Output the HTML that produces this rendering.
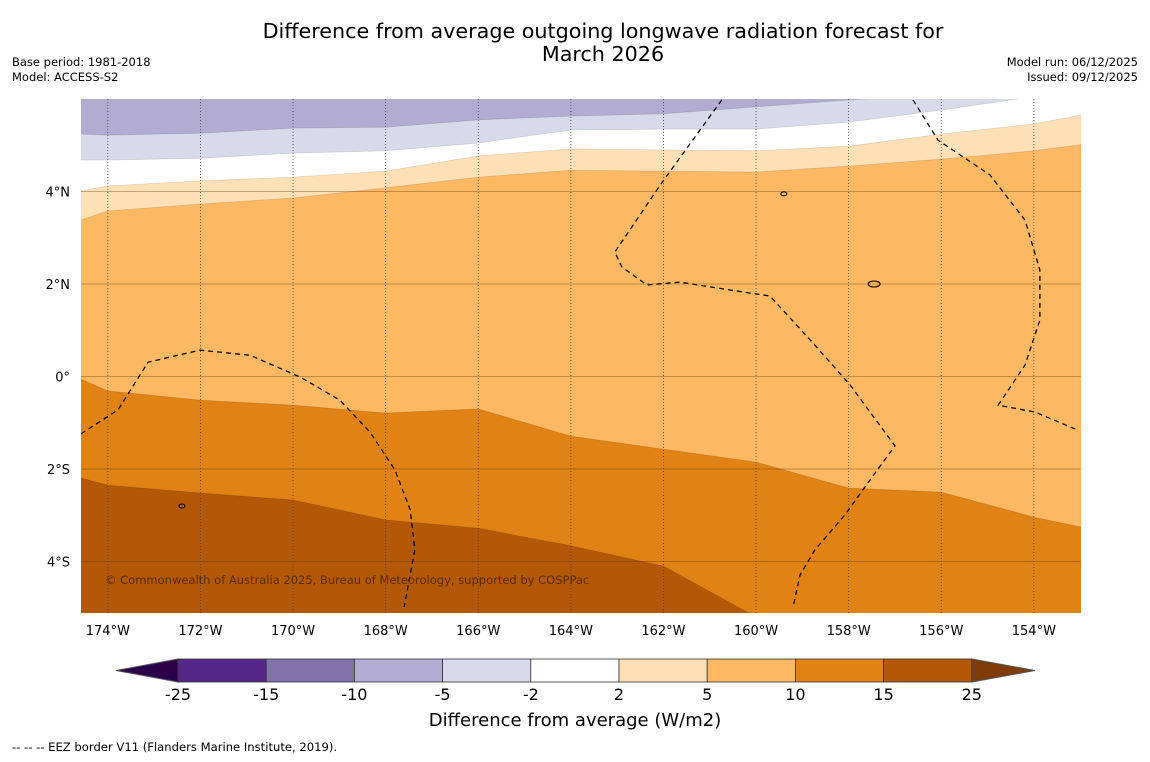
<!DOCTYPE html>
<html><head><meta charset="utf-8"><style>
body{margin:0;background:#fff;width:1150px;height:758px;overflow:hidden;font-family:"DejaVu Sans","Liberation Sans",sans-serif}
</style></head><body>
<svg id="c" width="1150" height="758" xmlns="http://www.w3.org/2000/svg">
<text x="603" y="38" font-size="20.7" text-anchor="middle">Difference from average outgoing longwave radiation forecast for</text>
<text x="603" y="61" font-size="20.7" text-anchor="middle">March 2026</text>
<text x="12" y="66" font-size="11.5">Base period: 1981-2018</text>
<text x="12" y="81" font-size="11.5">Model: ACCESS-S2</text>
<text x="1138" y="66" font-size="11.5" text-anchor="end">Model run: 06/12/2025</text>
<text x="1138" y="81" font-size="11.5" text-anchor="end">Issued: 09/12/2025</text>
<defs><clipPath id="mc"><rect x="81" y="99" width="1000" height="514"/></clipPath></defs>
<g id="map" clip-path="url(#mc)"></g>
<g id="axes"></g>
<g id="cbar"></g>
<text x="575" y="726" font-size="18" text-anchor="middle">Difference from average (W/m2)</text>
<text x="12" y="751" font-size="11.6">--  --  -- EEZ border V11 (Flanders Marine Institute, 2019).</text>
</svg>
<script>
const lonGrid=[-174.6,-174,-172,-170,-168,-166,-164,-162,-160,-158,-156,-154,-153,-152.5];
const b1=[5.24,5.22,5.26,5.37,5.39,5.55,5.63,5.68,5.83,5.98,6.1,6.1,6.1,6.1];
const b2=[4.68,4.68,4.72,4.83,4.88,5.05,5.33,5.35,5.35,5.50,5.76,6.05,6.1,6.1];
const b3=[4.01,4.12,4.23,4.31,4.44,4.77,4.92,4.90,4.88,4.98,5.24,5.46,5.65,5.7];
const b4=[3.38,3.58,3.73,3.86,4.08,4.31,4.46,4.44,4.42,4.55,4.70,4.88,5.01,5.05];
const b5=[-0.05,-0.31,-0.51,-0.62,-0.79,-0.70,-1.29,-1.57,-1.85,-2.41,-2.50,-3.04,-3.25,-3.3];
const b6=[-2.19,-2.35,-2.52,-2.67,-3.10,-3.28,-3.66,-4.10,-5.2,-5.5,-5.5,-5.5,-5.5,-5.5];
const eezA=[[-174.58,-1.24],[-173.78,-0.72],[-173.13,0.31],[-172.01,0.57],[-170.93,0.46],[-169.85,-0.01],[-168.99,-0.51],[-168.34,-1.20],[-167.80,-2.02],[-167.47,-2.88],[-167.37,-3.75],[-167.6,-4.98]];
const eezB=[[-160.74,5.98],[-162.07,4.14],[-163.05,2.69],[-162.9,2.37],[-162.36,1.98],[-161.64,2.04],[-160.56,1.87],[-159.7,1.74],[-158.83,0.79],[-157.97,-0.18],[-157.0,-1.50],[-157.54,-2.24],[-158.08,-2.99],[-158.73,-3.75],[-159.05,-4.29],[-159.2,-4.98]];
const eezC=[[-156.61,5.98],[-156.07,5.11],[-154.95,4.36],[-154.19,3.38],[-153.87,2.30],[-153.87,1.22],[-154.19,0.25],[-154.77,-0.62],[-153.97,-0.77],[-153.05,-1.16]];
const lonTicks=[-174,-172,-170,-168,-166,-164,-162,-160,-158,-156,-154];
const latTicks=[4,2,0,-2,-4];
const cbLevels=["-25","-15","-10","-5","-2","2","5","10","15","25"];
const cbColors=["#542788","#8073ac","#b2abd2","#d8daeb","#ffffff","#fee0b6","#fdb863","#e08214","#b35806"];
const X=lon=>81+(lon+174.58)*46.3;
const Y=lat=>99+(6-lat)*46.25;
const NS="http://www.w3.org/2000/svg";
function mk(p,t,a){const e=document.createElementNS(NS,t);for(const k in a)e.setAttribute(k,a[k]);p.appendChild(e);return e;}
const map=document.getElementById('map');
const bg=mk(map,'rect',{x:81,y:99,width:1000,height:514,fill:'#b35806'});


const layers=[[b6,'#e08214','band-10-15'],[b5,'#fdb863','band-5-10'],[b4,'#fee0b6','band-2-5'],[b3,'#ffffff','band-neutral'],[b2,'#d8daeb','band-minus5-minus2'],[b1,'#b2abd2','band-minus10-minus5']];
layers.forEach(([b,col,nm])=>{
  let d='M'+(X(lonGrid[0])-5)+','+(Y(7))+' L'+(X(lonGrid[0])-5)+','+Y(b[0]);
  lonGrid.forEach((l,i)=>{d+=' L'+X(l)+','+Y(b[i]);});
  d+=' L'+X(lonGrid[lonGrid.length-1])+','+Y(7)+'Z';
  const p=mk(map,'path',{d:d,fill:col,stroke:'rgba(0,0,0,0.12)','stroke-width':0.8});
  
  
});
lonTicks.forEach(l=>{
  const ln=mk(map,'line',{x1:X(l),x2:X(l),y1:99,y2:613,stroke:'#444','stroke-width':0.8,'stroke-dasharray':'1,2'});
  
  
});
latTicks.forEach(l=>{
  const ln=mk(map,'line',{x1:81,x2:1081,y1:Y(l),y2:Y(l),stroke:'rgba(90,50,0,0.35)','stroke-width':1});
  
  
});
[eezA,eezB,eezC].forEach(pts=>{
  const p=mk(map,'polyline',{points:pts.map(q=>X(q[0])+','+Y(q[1])).join(' '),fill:'none',stroke:'#000','stroke-width':1.3,'stroke-dasharray':'5,4'});
  
  
});
[[-157.45,2.0,6,3],[-159.4,3.95,3,2],[-172.4,-2.8,3,2]].forEach(s=>{
  const e=mk(map,'ellipse',{cx:X(s[0]),cy:Y(s[1]),rx:s[2],ry:s[3],fill:'none',stroke:'#000','stroke-width':1});
  
  
});
const cp=mk(map,'text',{x:105,y:584,'font-size':11.5,fill:'rgba(60,30,0,0.75)'});
cp.textContent='© Commonwealth of Australia 2025, Bureau of Meteorology, supported by COSPPac';


const ax=document.getElementById('axes');
lonTicks.forEach(l=>{
  const t=mk(ax,'text',{x:X(l),y:635,'font-size':13,'text-anchor':'middle'});
  t.textContent=Math.abs(l)+'°W';
  
  
});
latTicks.forEach(l=>{
  const t=mk(ax,'text',{x:70,y:Y(l)+5,'font-size':13,'text-anchor':'end'});
  t.textContent=l===0?'0°':Math.abs(l)+'°'+(l>0?'N':'S');
  
  
});
const cb=document.getElementById('cbar');
const bx0=178,bw=88.2,cy0=659,ch=23;
const lt=mk(cb,'polygon',{points:`116,${cy0+ch/2} ${bx0},${cy0} ${bx0},${cy0+ch}`,fill:'#2d004b',stroke:'#555'});


const rt=mk(cb,'polygon',{points:`1035,${cy0+ch/2} ${bx0+9*bw},${cy0} ${bx0+9*bw},${cy0+ch}`,fill:'#7f3b08',stroke:'#555'});


cbColors.forEach((c,i)=>{
  const r=mk(cb,'rect',{x:bx0+i*bw,y:cy0,width:bw,height:ch,fill:c,stroke:'#333','stroke-width':0.8});
  
  
});
cbLevels.forEach((v,i)=>{
  const t=mk(cb,'text',{x:bx0+i*bw,y:700,'font-size':16,'text-anchor':'middle'});
  t.textContent=v;
  
  
});
</script>
</body></html>
